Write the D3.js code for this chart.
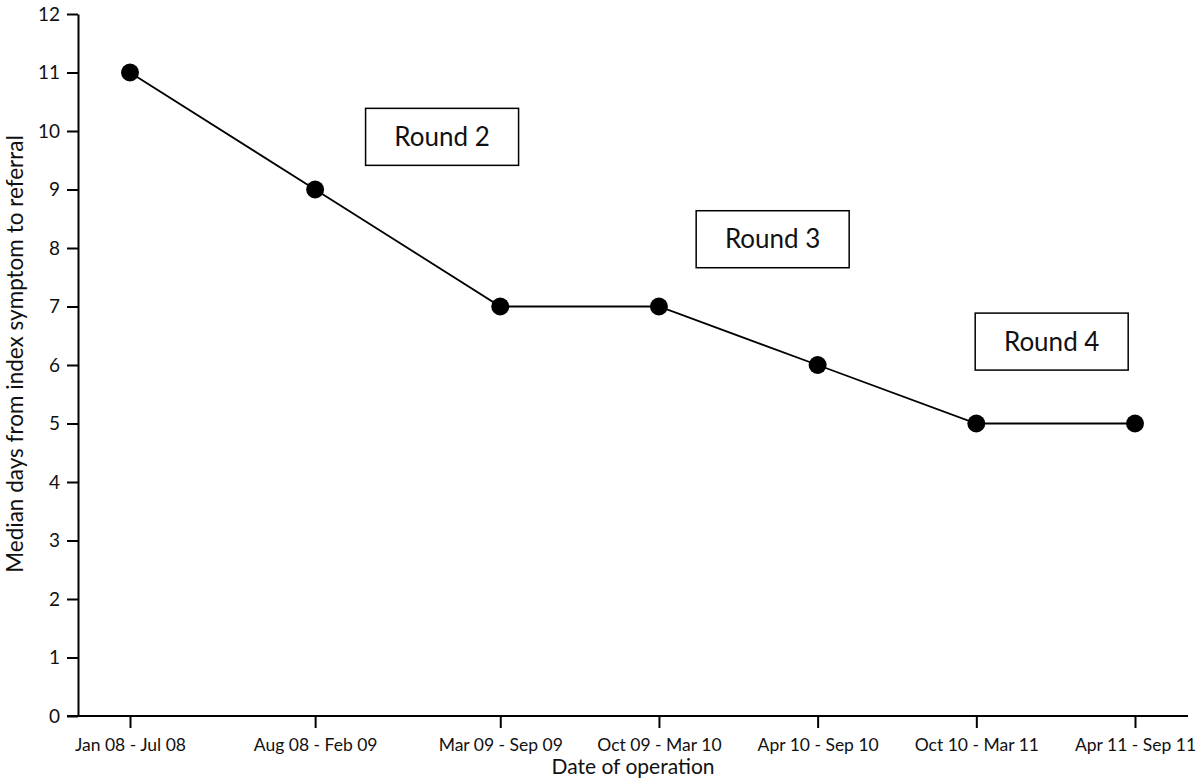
<!DOCTYPE html>
<html>
<head>
<meta charset="utf-8">
<script src="https://cdn.jsdelivr.net/npm/d3@7"></script>
<style>
  html, body { margin: 0; padding: 0; background: #fff; }
  svg { display: block; font-family: Lato, "Open Sans", sans-serif; }
</style>
</head>
<body>
<svg id="chart" width="1200" height="778"></svg>
<script>
// ---- data ----
const periods = ["Jan 08 - Jul 08", "Aug 08 - Feb 09", "Mar 09 - Sep 09", "Oct 09 - Mar 10", "Apr 10 - Sep 10", "Oct 10 - Mar 11", "Apr 11 - Sep 11"];
const periodMonth = [0, 7, 14, 20, 26, 32, 38];          // months from Jan 08 (axis position)
const medianDays = [11, 9, 7, 7, 6, 5, 5];
const yTicks = [0, 1, 2, 3, 4, 5, 6, 7, 8, 9, 10, 11, 12];
const roundLabels = ["Round 2", "Round 3", "Round 4"];
const roundX = [11.8, 24.3, 34.85];                       // annotation anchors (months)
const roundY = [9.9, 8.15, 6.4];                          // annotation anchors (days)

// ---- layout ----
const svg = d3.select("#chart");
const x = d3.scaleLinear().domain([0, 38]).range([130, 1135]);
const y = d3.scaleLinear().domain([0, 12]).range([716, 14]);
const axisLeftX = 78;

// y axis
const gy = svg.append("g").attr("transform", `translate(${axisLeftX},0)`)
  .call(d3.axisLeft(y).tickValues(yTicks).tickSize(11).tickSizeOuter(0).tickPadding(7));
gy.select(".domain").attr("stroke", "#000").attr("stroke-width", 2);
gy.selectAll(".tick line").attr("stroke", "#000").attr("stroke-width", 2);
gy.selectAll(".tick text").attr("font-size", 19).attr("fill", "#111").attr("font-family", "Lato, sans-serif");

// x axis
const gx = svg.append("g").attr("transform", `translate(0,${y(0)})`)
  .call(d3.axisBottom(x).tickValues(periodMonth).tickFormat((d, i) => periods[i]).tickSize(12).tickPadding(11));
gx.select(".domain").remove();
gx.selectAll(".tick line").attr("stroke", "#000").attr("stroke-width", 2);
gx.selectAll(".tick text").attr("font-size", 17.5).attr("fill", "#111").attr("font-family", "Lato, sans-serif");
svg.append("line").attr("x1", 67).attr("x2", 1188).attr("y1", y(0)).attr("y2", y(0))
  .attr("stroke", "#000").attr("stroke-width", 2);

// axis titles
svg.append("text").attr("x", 633).attr("y", 774).attr("text-anchor", "middle")
  .attr("font-size", 21).attr("fill", "#111").text("Date of operation");
svg.append("text").attr("transform", `translate(23,354) rotate(-90)`)
  .attr("text-anchor", "middle").attr("font-size", 22.5).attr("fill", "#111")
  .text("Median days from index symptom to referral");

// line + points
const pts = periodMonth.map((m, i) => [x(m), y(medianDays[i])]);
svg.append("path").attr("d", d3.line()(pts)).attr("fill", "none")
  .attr("stroke", "#000").attr("stroke-width", 1.8);
svg.selectAll("circle.pt").data(pts).enter().append("circle").attr("class", "pt")
  .attr("cx", d => d[0]).attr("cy", d => d[1]).attr("r", 9).attr("fill", "#000");

// round annotations
const boxW = 153, boxH = 57;
roundLabels.forEach((lab, i) => {
  const cx = x(roundX[i]), cy = y(roundY[i]);
  svg.append("rect").attr("x", cx - boxW / 2).attr("y", cy - boxH / 2)
    .attr("width", boxW).attr("height", boxH).attr("fill", "#fff")
    .attr("stroke", "#000").attr("stroke-width", 1.5);
  svg.append("text").attr("x", cx).attr("y", cy + 9).attr("text-anchor", "middle")
    .attr("font-size", 26).attr("fill", "#111").text(lab);
});
</script>
</body>
</html>
